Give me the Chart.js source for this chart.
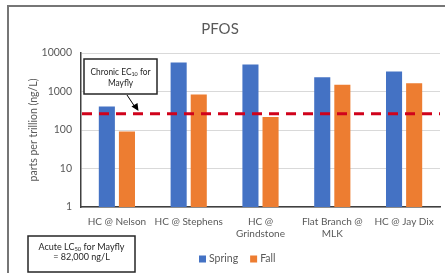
<!DOCTYPE html>
<html>
<head>
<meta charset="utf-8">
<script src="https://cdn.jsdelivr.net/npm/chart.js@4/dist/chart.umd.min.js"></script>
<style>
html,body{margin:0;padding:0;background:#fff;}
#wrap{position:relative;width:445px;height:273px;}
</style>
</head>
<body>
<div id="wrap"><canvas id="c" width="445" height="273"></canvas></div>
<script>
const categories = [["HC @ Nelson"], ["HC @ Stephens"], ["HC @", "Grindstone"], ["Flat Branch @", "MLK"], ["HC @ Jay Dix"]];
const springValues = [410, 5700, 5000, 2350, 3300];
const fallValues = [92, 830, 217, 1490, 1640];
const yTicks = [1, 10, 100, 1000, 10000];
const chronicEC10 = 265;
const chartTitle = "PFOS";
const yAxisTitle = "parts per trillion (ng/L)";

const FONT = "Lato, 'Open Sans', sans-serif";
const GRAY = "#595959";

function drawSubText(ctx, parts, cx, cy, size, sx) {
  sx = sx || 1;
  let total = 0;
  parts.forEach(p => {
    ctx.font = (p.sub ? size * 0.65 : size) + "px " + FONT;
    p.w = ctx.measureText(p.t).width;
    total += p.w;
  });
  ctx.save();
  ctx.translate(cx, cy);
  ctx.scale(sx, 1);
  let x = -total / 2;
  ctx.textAlign = "left";
  ctx.textBaseline = "middle";
  parts.forEach(p => {
    ctx.font = (p.sub ? size * 0.65 : size) + "px " + FONT;
    ctx.fillText(p.t, x, p.sub ? size * 0.25 : 0);
    x += p.w;
  });
  ctx.restore();
}

const overlay = {
  id: "overlay",
  afterDraw(chart) {
    const ctx = chart.ctx;
    const y = chart.scales.y;
    const area = chart.chartArea;
    ctx.save();
    ctx.strokeStyle = "#767676";
    ctx.lineWidth = 2;
    ctx.beginPath();
    ctx.moveTo(8, 273);
    ctx.lineTo(8, 6);
    ctx.lineTo(445, 6);
    ctx.stroke();

    const ty = y.getPixelForValue(chronicEC10);
    ctx.strokeStyle = "#d0021b";
    ctx.lineWidth = 3;
    ctx.setLineDash([10, 7]);
    ctx.beginPath();
    ctx.moveTo(area.left + 1, ty);
    ctx.lineTo(area.right, ty);
    ctx.stroke();
    ctx.setLineDash([]);

    ctx.fillStyle = "#fff";
    ctx.fillRect(84, 59, 73, 35);
    ctx.strokeStyle = "#262626";
    ctx.lineWidth = 1.5;
    ctx.strokeRect(84, 59, 73, 35);
    ctx.fillStyle = "#262626";
    drawSubText(ctx, [{t: "Chronic EC"}, {t: "10", sub: true}, {t: " for"}], 120.5, 71.5, 9.5, 0.88);
    drawSubText(ctx, [{t: "Mayfly"}], 120.5, 82.5, 9.5, 0.88);

    ctx.strokeStyle = "#000";
    ctx.lineWidth = 1;
    ctx.beginPath();
    ctx.moveTo(127, 95);
    ctx.lineTo(135, 107);
    ctx.stroke();
    ctx.fillStyle = "#000";
    ctx.beginPath();
    ctx.moveTo(138.5, 111);
    ctx.lineTo(131.5, 106.5);
    ctx.lineTo(137.5, 103);
    ctx.closePath();
    ctx.fill();

    ctx.fillStyle = "#fff";
    ctx.fillRect(28, 236, 107, 36);
    ctx.strokeStyle = "#262626";
    ctx.lineWidth = 1.5;
    ctx.strokeRect(28, 236, 107, 36);
    ctx.fillStyle = "#262626";
    drawSubText(ctx, [{t: "Acute LC"}, {t: "50", sub: true}, {t: " for Mayfly"}], 81.5, 247, 9.5, 0.95);
    drawSubText(ctx, [{t: "= 82,000 ng/L"}], 81.5, 257, 9.5, 0.95);

    let lx = 199;
    const ly = 259;
    ctx.font = "10.5px " + FONT;
    ctx.textBaseline = "middle";
    ctx.textAlign = "left";
    chart.data.datasets.forEach(ds => {
      ctx.fillStyle = ds.backgroundColor;
      ctx.fillRect(lx, ly - 3.5, 7, 7);
      ctx.fillStyle = GRAY;
      ctx.fillText(ds.label, lx + 10, ly);
      lx += 10 + ctx.measureText(ds.label).width + 12;
    });
    ctx.restore();
  }
};

new Chart(document.getElementById("c"), {
  type: "bar",
  data: {
    labels: categories,
    datasets: [
      {label: "Spring", data: springValues, backgroundColor: "#4472c4", categoryPercentage: 0.56, barPercentage: 0.8},
      {label: "Fall", data: fallValues, backgroundColor: "#ed7d31", categoryPercentage: 0.56, barPercentage: 0.8}
    ]
  },
  options: {
    responsive: false,
    animation: false,
    devicePixelRatio: 1,
    layout: {padding: {left: 0, right: 5, top: 0, bottom: 0}},
    plugins: {
      legend: {display: false},
      tooltip: {enabled: false},
      title: {
        display: true,
        text: chartTitle,
        color: GRAY,
        font: {family: FONT, size: 15, weight: "normal"},
        padding: {top: 20, bottom: 15}
      }
    },
    scales: {
      x: {
        grid: {display: false, drawTicks: false, tickLength: 0},
        border: {display: true, color: "#404040", width: 1.5},
        ticks: {color: GRAY, font: {family: FONT, size: 10}, padding: 9, maxRotation: 0, autoSkip: false},
        afterFit(s) { s.height = 66; }
      },
      y: {
        type: "logarithmic",
        min: 1,
        max: 10000,
        afterBuildTicks(s) { s.ticks = yTicks.map(v => ({value: v})); },
        grid: {color: "#d9d9d9", lineWidth: 1, drawTicks: false, tickLength: 0},
        border: {display: true, color: "#404040", width: 1.5},
        ticks: {color: GRAY, font: {family: FONT, size: 10.5}, padding: 9, callback: v => String(v)},
        title: {display: true, text: yAxisTitle, color: GRAY, font: {family: FONT, size: 10.5}, padding: 27},
        afterFit(s) { s.width = 81; }
      }
    }
  },
  plugins: [overlay]
});
</script>
</body>
</html>
